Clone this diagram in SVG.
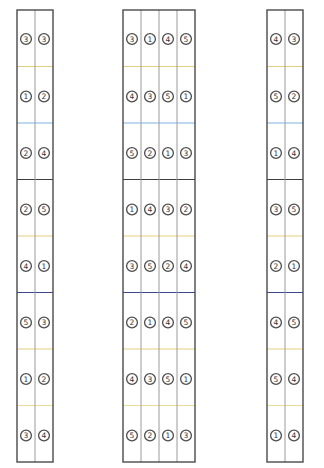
<svg xmlns="http://www.w3.org/2000/svg" width="324" height="468" viewBox="0 0 324 468">
<style>
.bg{fill:#ffffff}
.frame{fill:none;stroke:#4a4a4a;stroke-width:1.4}
.div{stroke:#9a9a9a;stroke-width:1}
.y{stroke:#e6cf7a;stroke-width:1}
.b{stroke:#7fb2e6;stroke-width:1}
.d{stroke:#3c3c3c;stroke-width:1}
.n{stroke:#3b4690;stroke-width:1}
.ly{stroke:#e9dd96;stroke-width:1}
.c circle{fill:#fff;stroke:#4d4d4d;stroke-width:1.3}
.c text{font-family:"DejaVu Sans",sans-serif;font-size:7.5px;fill:#333;text-anchor:middle;dominant-baseline:central}
</style>
<defs>
  <circle id="o" r="5.4"/>
</defs>
<rect class="bg" width="324" height="468"/>
<g id="connectors">
  <g id="sep-left">
    <line class="y" x1="17" y1="66.5" x2="53" y2="66.5"/>
    <line class="b" x1="17" y1="123" x2="53" y2="123"/>
    <line class="d" x1="17" y1="179.5" x2="53" y2="179.5"/>
    <line class="y" x1="17" y1="236" x2="53" y2="236"/>
    <line class="n" x1="17" y1="292.5" x2="53" y2="292.5"/>
    <line class="y" x1="17" y1="349" x2="53" y2="349"/>
    <line class="ly" x1="17" y1="405.5" x2="53" y2="405.5"/>
  </g>
  <g id="sep-mid">
    <line class="y" x1="123" y1="66.5" x2="195" y2="66.5"/>
    <line class="b" x1="123" y1="123" x2="195" y2="123"/>
    <line class="d" x1="123" y1="179.5" x2="195" y2="179.5"/>
    <line class="y" x1="123" y1="236" x2="195" y2="236"/>
    <line class="n" x1="123" y1="292.5" x2="195" y2="292.5"/>
    <line class="y" x1="123" y1="349" x2="195" y2="349"/>
    <line class="ly" x1="123" y1="405.5" x2="195" y2="405.5"/>
  </g>
  <g id="sep-right">
    <line class="y" x1="267" y1="66.5" x2="303" y2="66.5"/>
    <line class="b" x1="267" y1="123" x2="303" y2="123"/>
    <line class="d" x1="267" y1="179.5" x2="303" y2="179.5"/>
    <line class="y" x1="267" y1="236" x2="303" y2="236"/>
    <line class="n" x1="267" y1="292.5" x2="303" y2="292.5"/>
    <line class="y" x1="267" y1="349" x2="303" y2="349"/>
    <line class="ly" x1="267" y1="405.5" x2="303" y2="405.5"/>
  </g>
  <line class="div" x1="35" y1="10" x2="35" y2="462"/>
  <line class="div" x1="141" y1="10" x2="141" y2="462"/>
  <line class="div" x1="159" y1="10" x2="159" y2="462"/>
  <line class="div" x1="177" y1="10" x2="177" y2="462"/>
  <line class="div" x1="285" y1="10" x2="285" y2="462"/>
</g>
<g id="col-left">
  <rect class="frame" x="17" y="10" width="36" height="452"/>
  <g class="c">
    <circle cx="26" cy="39" r="5.4"/><text x="26" y="39">3</text><circle cx="44" cy="39" r="5.4"/><text x="44" y="39">3</text>
    <circle cx="26" cy="96.5" r="5.4"/><text x="26" y="96.5">1</text><circle cx="44" cy="96.5" r="5.4"/><text x="44" y="96.5">2</text>
    <circle cx="26" cy="153" r="5.4"/><text x="26" y="153">2</text><circle cx="44" cy="153" r="5.4"/><text x="44" y="153">4</text>
    <circle cx="26" cy="209.5" r="5.4"/><text x="26" y="209.5">2</text><circle cx="44" cy="209.5" r="5.4"/><text x="44" y="209.5">5</text>
    <circle cx="26" cy="266" r="5.4"/><text x="26" y="266">4</text><circle cx="44" cy="266" r="5.4"/><text x="44" y="266">1</text>
    <circle cx="26" cy="322.5" r="5.4"/><text x="26" y="322.5">5</text><circle cx="44" cy="322.5" r="5.4"/><text x="44" y="322.5">3</text>
    <circle cx="26" cy="379" r="5.4"/><text x="26" y="379">1</text><circle cx="44" cy="379" r="5.4"/><text x="44" y="379">2</text>
    <circle cx="26" cy="435.5" r="5.4"/><text x="26" y="435.5">3</text><circle cx="44" cy="435.5" r="5.4"/><text x="44" y="435.5">4</text>
  </g>
</g>
<g id="col-mid">
  <rect class="frame" x="123" y="10" width="72" height="452"/>
  <g class="c">
    <circle cx="132" cy="39" r="5.4"/><text x="132" y="39">3</text><circle cx="150" cy="39" r="5.4"/><text x="150" y="39">1</text><circle cx="168" cy="39" r="5.4"/><text x="168" y="39">4</text><circle cx="186" cy="39" r="5.4"/><text x="186" y="39">5</text>
    <circle cx="132" cy="96.5" r="5.4"/><text x="132" y="96.5">4</text><circle cx="150" cy="96.5" r="5.4"/><text x="150" y="96.5">3</text><circle cx="168" cy="96.5" r="5.4"/><text x="168" y="96.5">5</text><circle cx="186" cy="96.5" r="5.4"/><text x="186" y="96.5">1</text>
    <circle cx="132" cy="153" r="5.4"/><text x="132" y="153">5</text><circle cx="150" cy="153" r="5.4"/><text x="150" y="153">2</text><circle cx="168" cy="153" r="5.4"/><text x="168" y="153">1</text><circle cx="186" cy="153" r="5.4"/><text x="186" y="153">3</text>
    <circle cx="132" cy="209.5" r="5.4"/><text x="132" y="209.5">1</text><circle cx="150" cy="209.5" r="5.4"/><text x="150" y="209.5">4</text><circle cx="168" cy="209.5" r="5.4"/><text x="168" y="209.5">3</text><circle cx="186" cy="209.5" r="5.4"/><text x="186" y="209.5">2</text>
    <circle cx="132" cy="266" r="5.4"/><text x="132" y="266">3</text><circle cx="150" cy="266" r="5.4"/><text x="150" y="266">5</text><circle cx="168" cy="266" r="5.4"/><text x="168" y="266">2</text><circle cx="186" cy="266" r="5.4"/><text x="186" y="266">4</text>
    <circle cx="132" cy="322.5" r="5.4"/><text x="132" y="322.5">2</text><circle cx="150" cy="322.5" r="5.4"/><text x="150" y="322.5">1</text><circle cx="168" cy="322.5" r="5.4"/><text x="168" y="322.5">4</text><circle cx="186" cy="322.5" r="5.4"/><text x="186" y="322.5">5</text>
    <circle cx="132" cy="379" r="5.4"/><text x="132" y="379">4</text><circle cx="150" cy="379" r="5.4"/><text x="150" y="379">3</text><circle cx="168" cy="379" r="5.4"/><text x="168" y="379">5</text><circle cx="186" cy="379" r="5.4"/><text x="186" y="379">1</text>
    <circle cx="132" cy="435.5" r="5.4"/><text x="132" y="435.5">5</text><circle cx="150" cy="435.5" r="5.4"/><text x="150" y="435.5">2</text><circle cx="168" cy="435.5" r="5.4"/><text x="168" y="435.5">1</text><circle cx="186" cy="435.5" r="5.4"/><text x="186" y="435.5">3</text>
  </g>
</g>
<g id="col-right">
  <rect class="frame" x="267" y="10" width="36" height="452"/>
  <g class="c">
    <circle cx="276" cy="39" r="5.4"/><text x="276" y="39">4</text><circle cx="294" cy="39" r="5.4"/><text x="294" y="39">3</text>
    <circle cx="276" cy="96.5" r="5.4"/><text x="276" y="96.5">5</text><circle cx="294" cy="96.5" r="5.4"/><text x="294" y="96.5">2</text>
    <circle cx="276" cy="153" r="5.4"/><text x="276" y="153">1</text><circle cx="294" cy="153" r="5.4"/><text x="294" y="153">4</text>
    <circle cx="276" cy="209.5" r="5.4"/><text x="276" y="209.5">3</text><circle cx="294" cy="209.5" r="5.4"/><text x="294" y="209.5">5</text>
    <circle cx="276" cy="266" r="5.4"/><text x="276" y="266">2</text><circle cx="294" cy="266" r="5.4"/><text x="294" y="266">1</text>
    <circle cx="276" cy="322.5" r="5.4"/><text x="276" y="322.5">4</text><circle cx="294" cy="322.5" r="5.4"/><text x="294" y="322.5">5</text>
    <circle cx="276" cy="379" r="5.4"/><text x="276" y="379">5</text><circle cx="294" cy="379" r="5.4"/><text x="294" y="379">4</text>
    <circle cx="276" cy="435.5" r="5.4"/><text x="276" y="435.5">1</text><circle cx="294" cy="435.5" r="5.4"/><text x="294" y="435.5">4</text>
  </g>
</g>
</svg>
